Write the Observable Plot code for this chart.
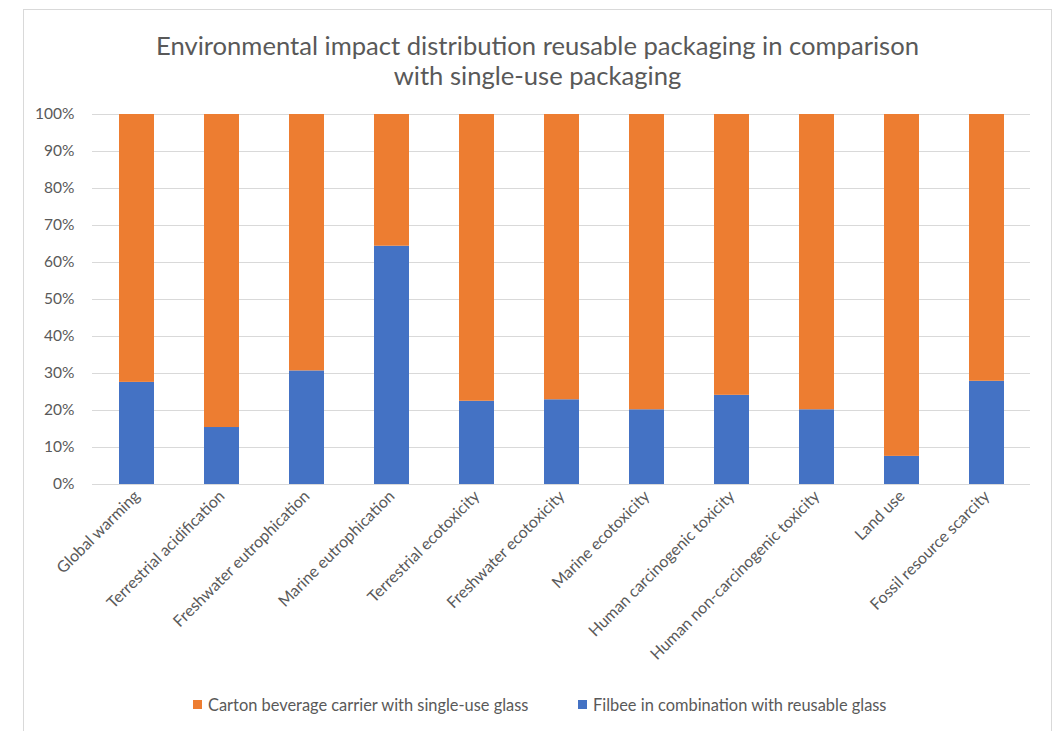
<!DOCTYPE html>
<html>
<head>
<meta charset="utf-8">
<script src="https://cdn.jsdelivr.net/npm/d3@7"></script>
<script src="https://cdn.jsdelivr.net/npm/@observablehq/plot@0.6"></script>
<style>
  html, body { margin: 0; padding: 0; background: #fff; }
  body { width: 1056px; height: 731px; position: relative; overflow: hidden; font-family: Lato, "Open Sans", sans-serif; }
  #frame { position: absolute; left: 23px; top: 9px; width: 1029px; height: 740px; border: 1px solid #d9d9d9; box-sizing: border-box; }
  #title { position: absolute; left: 0; width: 1075px; top: 30px; text-align: center; font-size: 25.6px; line-height: 30px; color: #595959; }
  #chart { position: absolute; left: 0; top: 95px; }
  #legend { position: absolute; top: 695px; left: 0; width: 1056px; font-size: 16.4px; color: #595959; }
  .item { position: absolute; display: flex; align-items: center; white-space: nowrap; }
  .sw { width: 9px; height: 9px; margin-right: 6px; }
</style>
</head>
<body>
<div id="frame"></div>
<div id="title">Environmental impact distribution reusable packaging in comparison<br>with single-use packaging</div>
<div id="chart"></div>
<div id="legend"></div>
<script>
const categories = [
  "Global warming", "Terrestrial acidification", "Freshwater eutrophication",
  "Marine eutrophication", "Terrestrial ecotoxicity", "Freshwater ecotoxicity",
  "Marine ecotoxicity", "Human carcinogenic toxicity", "Human non-carcinogenic toxicity",
  "Land use", "Fossil resource scarcity"
];
const seriesNames = ["Filbee in combination with reusable glass", "Carton beverage carrier with single-use glass"];
const filbee = [0.276, 0.154, 0.307, 0.644, 0.225, 0.229, 0.202, 0.241, 0.202, 0.076, 0.279];
const carton = filbee.map(v => 1 - v);
const colors = ["#4472C4", "#ED7D31"];
const yTicks = [0, 0.1, 0.2, 0.3, 0.4, 0.5, 0.6, 0.7, 0.8, 0.9, 1.0];

const data = [];
categories.forEach((c, i) => {
  data.push({category: c, series: seriesNames[0], value: filbee[i]});
  data.push({category: c, series: seriesNames[1], value: carton[i]});
});

const plot = Plot.plot({
  width: 1056,
  height: 600,
  marginTop: 19,
  marginBottom: 211,
  marginLeft: 92,
  marginRight: 26,
  style: {fontFamily: "Lato, 'Open Sans', sans-serif", fontSize: "14px", color: "#595959", background: "transparent"},
  x: {domain: categories, paddingInner: 0.59, paddingOuter: 0.295, label: null},
  y: {domain: [0, 1], label: null},
  color: {domain: seriesNames, range: colors},
  marks: [
    Plot.gridY(yTicks, {stroke: "#d9d9d9", strokeOpacity: 1, strokeWidth: 1}),
    Plot.barY(data, {x: "category", y: "value", fill: "series", order: seriesNames}),
    Plot.axisY({ticks: yTicks, tickFormat: d3.format(".0%"), tickSize: 0, tickPadding: 18, fontSize: 15.5, label: null}),
    Plot.axisX({tickSize: 0, tickPadding: 9, tickRotate: -45, fontSize: 16, label: null}),
    Plot.ruleY([0], {stroke: "#d9d9d9"})
  ]
});
document.getElementById("chart").appendChild(plot);

const legend = document.getElementById("legend");
const legendItems = [
  {name: seriesNames[1], color: colors[1], left: 193},
  {name: seriesNames[0], color: colors[0], left: 578}
];
legendItems.forEach(it => {
  const d = document.createElement("div");
  d.className = "item";
  d.style.left = it.left + "px";
  d.innerHTML = `<span class="sw" style="background:${it.color}"></span><span>${it.name}</span>`;
  legend.appendChild(d);
});
</script>
</body>
</html>
